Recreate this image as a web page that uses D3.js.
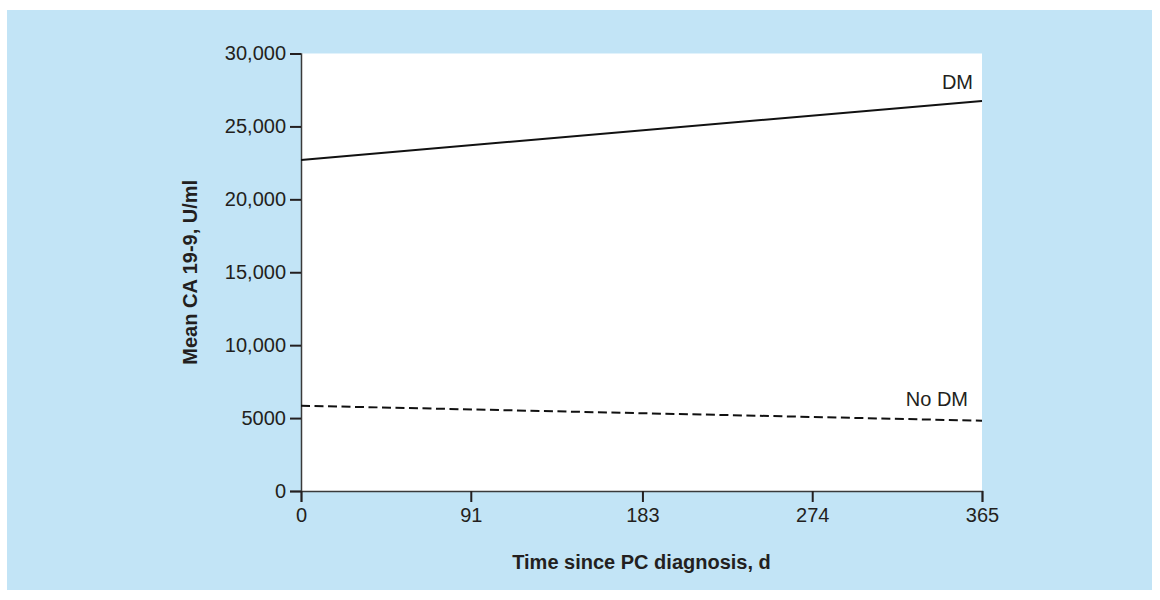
<!DOCTYPE html>
<html>
<head>
<meta charset="utf-8">
<script src="https://cdn.jsdelivr.net/npm/d3@7"></script>
<style>
  body { margin: 0; background: #fff; }
  text { font-family: "Liberation Sans", Arial, sans-serif; fill: #231f20; }
</style>
</head>
<body>
<div id="chart"></div>
<script>
// data
const days = [0, 365];
const dmValues = [22700, 26750];
const noDmValues = [5850, 4820];
const xTicks = [0, 91, 183, 274, 365];
const yTicks = [0, 5000, 10000, 15000, 20000, 25000, 30000];
const seriesNames = ['DM', 'No DM'];

const width = 1160, height = 600;
const margin = {left: 301, right: 178, top: 53.5, bottom: 109};

const svg = d3.select('#chart').append('svg')
    .attr('width', width)
    .attr('height', height);

// light blue panel
svg.append('rect')
    .attr('x', 7).attr('y', 10)
    .attr('width', 1145).attr('height', 580)
    .attr('fill', '#c2e4f6');

const x = d3.scaleLinear().domain([0, 365]).range([margin.left, width - margin.right]);
const y = d3.scaleLinear().domain([0, 30000]).range([height - margin.bottom, margin.top]);

// white plot area
svg.append('rect')
    .attr('x', x(0)).attr('y', y(30000))
    .attr('width', x(365) - x(0)).attr('height', y(0) - y(30000))
    .attr('fill', '#fff');

const fmt = d => d === 0 ? '0' : (d < 10000 ? String(d) : d3.format(',')(d));

const yAxis = svg.append('g')
    .attr('transform', `translate(${x(0)},0)`)
    .call(d3.axisLeft(y).tickValues(yTicks).tickFormat(fmt).tickSize(11).tickPadding(4));

const xAxis = svg.append('g')
    .attr('transform', `translate(0,${y(0)})`)
    .call(d3.axisBottom(x).tickValues(xTicks).tickFormat(d3.format('d')).tickSize(11).tickPadding(6));

[yAxis, xAxis].forEach(g => {
    g.select('.domain').attr('stroke', '#3a3a3a').attr('stroke-width', 1.5);
    g.selectAll('.tick line').attr('stroke', '#231f20').attr('stroke-width', 2);
    g.selectAll('.tick text').attr('font-size', 20).attr('fill', '#231f20')
        .style('font-family', '"Liberation Sans", Arial, sans-serif');
});

const line = d3.line().x(d => x(d[0])).y(d => y(d[1]));

svg.append('path')
    .datum(days.map((d, i) => [d, dmValues[i]]))
    .attr('d', line)
    .attr('fill', 'none')
    .attr('stroke', '#111')
    .attr('stroke-width', 2);

svg.append('path')
    .datum(days.map((d, i) => [d, noDmValues[i]]))
    .attr('d', line)
    .attr('fill', 'none')
    .attr('stroke', '#111')
    .attr('stroke-width', 2)
    .attr('stroke-dasharray', '9,4.5');

// series labels
svg.append('text')
    .attr('x', x(365) - 9).attr('y', y(dmValues[1]) - 12)
    .attr('text-anchor', 'end').attr('font-size', 20)
    .text(seriesNames[0]);

svg.append('text')
    .attr('x', x(365) - 14).attr('y', y(noDmValues[1]) - 15)
    .attr('text-anchor', 'end').attr('font-size', 20)
    .text(seriesNames[1]);

// axis titles
svg.append('text')
    .attr('x', (x(0) + x(365)) / 2).attr('y', 569)
    .attr('text-anchor', 'middle')
    .attr('font-size', 20).attr('font-weight', 'bold')
    .text('Time since PC diagnosis, d');

svg.append('text')
    .attr('transform', `translate(197,${(y(0) + y(30000)) / 2}) rotate(-90)`)
    .attr('text-anchor', 'middle')
    .attr('font-size', 20).attr('font-weight', 'bold')
    .text('Mean CA 19-9, U/ml');
</script>
</body>
</html>
